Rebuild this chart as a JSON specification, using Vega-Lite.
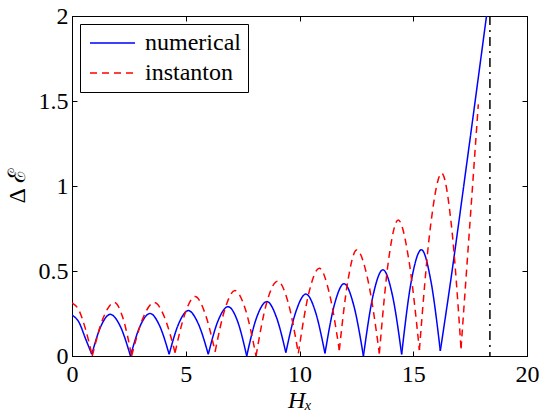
{
  "$schema": "https://vega.github.io/schema/vega-lite/v6.json",
  "width": 455,
  "height": 340,
  "autosize": {"type": "none"},
  "padding": {"left": 72, "top": 16, "right": 13, "bottom": 58},
  "background": "white",
  "config": {
    "view": {"stroke": "black", "strokeWidth": 1},
    "style": {"guide-label": {"font": "Liberation Serif"}, "guide-title": {"font": "Liberation Serif"}},
    "axis": {
      "grid": false,
      "domainColor": "black",
      "tickColor": "black",
      "labelColor": "black",
      "titleColor": "black",
      "labelFont": "Liberation Serif",
      "titleFont": "Liberation Serif",
      "labelFontSize": 24,
      "titleFontSize": 24,
      "titleFontWeight": "normal",
      "tickSize": -5,
      "labelFlush": false,
      "labelOverlap": false,
      "labelBound": false
    },
    "legend": {
      "title": null,
      "labelFont": "Liberation Serif",
      "labelFontSize": 24,
      "labelColor": "black",
      "symbolType": "M-1,0H4",
      "symbolSize": 324,
      "symbolStrokeWidth": 1.5,
      "strokeColor": "black",
      "fillColor": "white",
      "padding": 7,
      "rowPadding": 6,
      "labelOffset": 34,
      "cornerRadius": 0
    }
  },
  "datasets": {
    "curves": [
      {"series": "numerical", "arch": "b0", "x": 0, "y": 0.24},
      {"series": "numerical", "arch": "b0", "x": 0.3, "y": 0.2},
      {"series": "numerical", "arch": "b0", "x": 0.6, "y": 0.1},
      {"series": "numerical", "arch": "b0", "x": 0.87, "y": 0.01},
      {"series": "numerical", "arch": "b1", "x": 0.87, "y": 0.01},
      {"series": "numerical", "arch": "b1", "x": 1.27, "y": 0.175},
      {"series": "numerical", "arch": "b1", "x": 1.68, "y": 0.245},
      {"series": "numerical", "arch": "b1", "x": 2.12, "y": 0.175},
      {"series": "numerical", "arch": "b1", "x": 2.57, "y": 0.0},
      {"series": "numerical", "arch": "b2", "x": 2.57, "y": 0.0},
      {"series": "numerical", "arch": "b2", "x": 3.0, "y": 0.178},
      {"series": "numerical", "arch": "b2", "x": 3.43, "y": 0.25},
      {"series": "numerical", "arch": "b2", "x": 3.85, "y": 0.178},
      {"series": "numerical", "arch": "b2", "x": 4.27, "y": 0.01},
      {"series": "numerical", "arch": "b3", "x": 4.27, "y": 0.01},
      {"series": "numerical", "arch": "b3", "x": 4.69, "y": 0.19},
      {"series": "numerical", "arch": "b3", "x": 5.11, "y": 0.267},
      {"series": "numerical", "arch": "b3", "x": 5.55, "y": 0.19},
      {"series": "numerical", "arch": "b3", "x": 5.99, "y": 0.01},
      {"series": "numerical", "arch": "b4", "x": 5.99, "y": 0.01},
      {"series": "numerical", "arch": "b4", "x": 6.42, "y": 0.207},
      {"series": "numerical", "arch": "b4", "x": 6.86, "y": 0.29},
      {"series": "numerical", "arch": "b4", "x": 7.27, "y": 0.207},
      {"series": "numerical", "arch": "b4", "x": 7.68, "y": 0.0},
      {"series": "numerical", "arch": "b5", "x": 7.68, "y": 0.0},
      {"series": "numerical", "arch": "b5", "x": 8.12, "y": 0.228},
      {"series": "numerical", "arch": "b5", "x": 8.57, "y": 0.32},
      {"series": "numerical", "arch": "b5", "x": 8.98, "y": 0.23},
      {"series": "numerical", "arch": "b5", "x": 9.4, "y": 0.02},
      {"series": "numerical", "arch": "b6", "x": 9.4, "y": 0.02},
      {"series": "numerical", "arch": "b6", "x": 9.84, "y": 0.26},
      {"series": "numerical", "arch": "b6", "x": 10.28, "y": 0.364},
      {"series": "numerical", "arch": "b6", "x": 10.7, "y": 0.26},
      {"series": "numerical", "arch": "b6", "x": 11.12, "y": 0.015},
      {"series": "numerical", "arch": "b7", "x": 11.12, "y": 0.015},
      {"series": "numerical", "arch": "b7", "x": 11.54, "y": 0.305},
      {"series": "numerical", "arch": "b7", "x": 11.96, "y": 0.425},
      {"series": "numerical", "arch": "b7", "x": 12.38, "y": 0.3},
      {"series": "numerical", "arch": "b7", "x": 12.81, "y": 0.0},
      {"series": "numerical", "arch": "b8", "x": 12.81, "y": 0.0},
      {"series": "numerical", "arch": "b8", "x": 13.24, "y": 0.36},
      {"series": "numerical", "arch": "b8", "x": 13.67, "y": 0.507},
      {"series": "numerical", "arch": "b8", "x": 14.08, "y": 0.36},
      {"series": "numerical", "arch": "b8", "x": 14.49, "y": 0.01},
      {"series": "numerical", "arch": "b9", "x": 14.49, "y": 0.01},
      {"series": "numerical", "arch": "b9", "x": 14.92, "y": 0.445},
      {"series": "numerical", "arch": "b9", "x": 15.36, "y": 0.625},
      {"series": "numerical", "arch": "b9", "x": 15.77, "y": 0.445},
      {"series": "numerical", "arch": "b9", "x": 16.19, "y": 0.03},
      {"series": "numerical", "arch": "b10", "x": 16.19, "y": 0.03},
      {"series": "numerical", "arch": "b10", "x": 16.6, "y": 0.4},
      {"series": "numerical", "arch": "b10", "x": 17.4, "y": 1.18},
      {"series": "numerical", "arch": "b10", "x": 18.22, "y": 2.0},
      {"series": "instanton", "arch": "r0", "x": 0, "y": 0.313},
      {"series": "instanton", "arch": "r0", "x": 0.3, "y": 0.27},
      {"series": "instanton", "arch": "r0", "x": 0.6, "y": 0.155},
      {"series": "instanton", "arch": "r0", "x": 0.89, "y": 0.0},
      {"series": "instanton", "arch": "r1", "x": 0.89, "y": 0.0},
      {"series": "instanton", "arch": "r1", "x": 1.37, "y": 0.223},
      {"series": "instanton", "arch": "r1", "x": 1.86, "y": 0.315},
      {"series": "instanton", "arch": "r1", "x": 2.24, "y": 0.223},
      {"series": "instanton", "arch": "r1", "x": 2.62, "y": 0.0},
      {"series": "instanton", "arch": "r2", "x": 2.62, "y": 0.0},
      {"series": "instanton", "arch": "r2", "x": 3.12, "y": 0.223},
      {"series": "instanton", "arch": "r2", "x": 3.62, "y": 0.315},
      {"series": "instanton", "arch": "r2", "x": 4.08, "y": 0.223},
      {"series": "instanton", "arch": "r2", "x": 4.53, "y": 0.02},
      {"series": "instanton", "arch": "r3", "x": 4.53, "y": 0.02},
      {"series": "instanton", "arch": "r3", "x": 4.97, "y": 0.25},
      {"series": "instanton", "arch": "r3", "x": 5.41, "y": 0.35},
      {"series": "instanton", "arch": "r3", "x": 5.85, "y": 0.25},
      {"series": "instanton", "arch": "r3", "x": 6.29, "y": 0.025},
      {"series": "instanton", "arch": "r4", "x": 6.29, "y": 0.025},
      {"series": "instanton", "arch": "r4", "x": 6.72, "y": 0.275},
      {"series": "instanton", "arch": "r4", "x": 7.16, "y": 0.385},
      {"series": "instanton", "arch": "r4", "x": 7.62, "y": 0.275},
      {"series": "instanton", "arch": "r4", "x": 8.09, "y": 0.0},
      {"series": "instanton", "arch": "r5", "x": 8.09, "y": 0.0},
      {"series": "instanton", "arch": "r5", "x": 8.56, "y": 0.315},
      {"series": "instanton", "arch": "r5", "x": 9.04, "y": 0.44},
      {"series": "instanton", "arch": "r5", "x": 9.5, "y": 0.315},
      {"series": "instanton", "arch": "r5", "x": 9.95, "y": 0.015},
      {"series": "instanton", "arch": "r6", "x": 9.95, "y": 0.015},
      {"series": "instanton", "arch": "r6", "x": 10.41, "y": 0.37},
      {"series": "instanton", "arch": "r6", "x": 10.87, "y": 0.516},
      {"series": "instanton", "arch": "r6", "x": 11.31, "y": 0.37},
      {"series": "instanton", "arch": "r6", "x": 11.75, "y": 0.035},
      {"series": "instanton", "arch": "r7", "x": 11.75, "y": 0.035},
      {"series": "instanton", "arch": "r7", "x": 12.13, "y": 0.445},
      {"series": "instanton", "arch": "r7", "x": 12.51, "y": 0.624},
      {"series": "instanton", "arch": "r7", "x": 13.01, "y": 0.445},
      {"series": "instanton", "arch": "r7", "x": 13.51, "y": 0.015},
      {"series": "instanton", "arch": "r8", "x": 13.51, "y": 0.015},
      {"series": "instanton", "arch": "r8", "x": 13.92, "y": 0.57},
      {"series": "instanton", "arch": "r8", "x": 14.34, "y": 0.8},
      {"series": "instanton", "arch": "r8", "x": 14.8, "y": 0.57},
      {"series": "instanton", "arch": "r8", "x": 15.27, "y": 0.035},
      {"series": "instanton", "arch": "r9", "x": 15.27, "y": 0.035},
      {"series": "instanton", "arch": "r9", "x": 15.76, "y": 0.765},
      {"series": "instanton", "arch": "r9", "x": 16.25, "y": 1.075},
      {"series": "instanton", "arch": "r9", "x": 16.68, "y": 0.765},
      {"series": "instanton", "arch": "r9", "x": 17.1, "y": 0.045},
      {"series": "instanton", "arch": "r10", "x": 17.1, "y": 0.045},
      {"series": "instanton", "arch": "r10", "x": 17.48, "y": 0.76},
      {"series": "instanton", "arch": "r10", "x": 17.86, "y": 1.48}
    ],
    "vline": [{"x": 18.37, "y": 1}]
  },
  "layer": [
    {
      "data": {"name": "curves"},
      "mark": {"type": "line", "interpolate": "monotone", "strokeWidth": 1.5, "clip": true},
      "encoding": {
        "x": {
          "field": "x", "type": "quantitative",
          "scale": {"domain": [0, 20], "nice": false},
          "axis": {"orient": "bottom", "values": [0, 5, 10, 15, 20], "format": "~g", "labelPadding": 11, "labelFont": "Liberation Serif", "title": "Hₓ", "titleFontStyle": "italic", "titleFont": "Liberation Serif", "titlePadding": 2}
        },
        "y": {
          "field": "y", "type": "quantitative",
          "scale": {"domain": [0, 2], "nice": false},
          "axis": {"orient": "left", "values": [0, 0.5, 1, 1.5, 2], "format": "~g", "labelPadding": 9, "labelFont": "Liberation Serif", "title": "Δ ℰ", "titleFont": "Liberation Serif", "titlePadding": 9}
        },
        "color": {
          "field": "series", "type": "nominal",
          "scale": {"domain": ["numerical", "instanton"], "range": ["#0000ff", "#ff0000"]},
          "legend": {"orient": "top-left", "offset": 8, "labelFont": "Liberation Serif"}
        },
        "strokeDash": {
          "field": "series", "type": "nominal",
          "scale": {"domain": ["numerical", "instanton"], "range": [[1, 0], [7, 5]]},
          "legend": {"orient": "top-left", "offset": 8, "labelFont": "Liberation Serif"}
        },
        "detail": {"field": "arch"}
      }
    },
    {
      "data": {"name": "vline"},
      "mark": {"type": "rule", "color": "black", "strokeWidth": 1.5, "strokeDash": [9, 5, 2, 5]},
      "encoding": {
        "x": {"field": "x", "type": "quantitative", "axis": null}
      }
    },
    {
      "data": {"name": "vline"},
      "mark": {"type": "point", "opacity": 0},
      "encoding": {
        "x": {"field": "x", "type": "quantitative", "axis": {"orient": "top", "values": [0, 5, 10, 15, 20], "labels": false, "title": null}},
        "y": {"field": "y", "type": "quantitative", "axis": {"orient": "right", "values": [0, 0.5, 1, 1.5, 2], "labels": false, "title": null}}
      }
    }
  ],
  "resolve": {"axis": {"x": "independent", "y": "independent"}}
}
